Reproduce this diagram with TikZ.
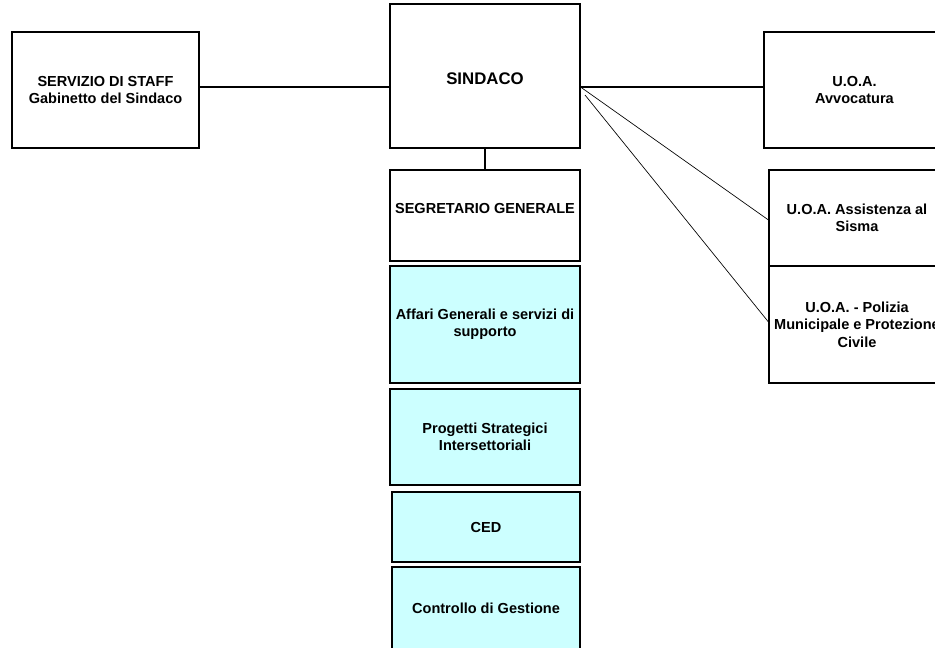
\documentclass[tikz,border=0pt]{standalone}
\usepackage{fontspec}
\setmainfont{Liberation Sans}
\definecolor{boxcyan}{HTML}{CCFFFF}
\begin{document}
\begin{tikzpicture}[x=0.75pt,y=-0.75pt,
  box/.style={draw,line width=0.8pt,inner sep=0pt,align=center,
    font=\fontsize{10.9}{13}\selectfont\bfseries},
  sz/.style 2 args={minimum width=#1*0.75pt,minimum height=#2*0.75pt},
  cbox/.style={box,fill=boxcyan},
  bigtext/.style={font=\fontsize{12.6}{15}\selectfont\bfseries},
  conn/.style={line width=0.8pt},
  thinconn/.style={line width=0.5pt}]
\useasboundingbox (0,0) rectangle (935,647);
\clip (0,0) rectangle (935,647);
\fill[white] (0,0) rectangle (935,647);
% left
\node[box,sz={187}{116}] (staff) at (105.5,90) {SERVIZIO DI STAFF\\Gabinetto del Sindaco};
% centre column
\node[box,bigtext,sz={190}{144}] (sindaco) at (485,76) {\raisebox{-2pt}[\height][\depth]{SINDACO}};
\node[box,sz={190}{91}] (segr) at (485,215.5) {\raisebox{5pt}[\height][\depth]{SEGRETARIO GENERALE}};
\node[cbox,sz={190}{117}] (affari) at (485,324.5) {Affari Generali e servizi di\\supporto};
\node[cbox,sz={190}{96}] (prog) at (485,437) {Progetti Strategici\\Intersettoriali};
\node[cbox,sz={188}{70}] (ced) at (486,527) {CED};
\node[cbox,sz={188}{83}] (ctrl) at (486,608.5) {Controllo di Gestione};
% right
\node[box,sz={181}{116}] (avv) at (854.5,90) {U.O.A.\\Avvocatura};
\node[box,sz={176}{96}] (assist) at (857,218) {U.O.A. Assistenza al\\Sisma};
\node[box,sz={176}{117}] (pol) at (857,324.5) {U.O.A. - Polizia\\Municipale e Protezione\\Civile};
% connectors
\coordinate (d2) at (585,95);
\draw[conn] (staff.east |- 0,87) -- (sindaco.west |- 0,87);
\draw[conn] (sindaco.south) -- (segr.north);
\draw[conn] (sindaco.east |- 0,87) -- (avv.west |- 0,87);
\draw[thinconn] (sindaco.east |- 0,87) -- (assist.west |- 0,220);
\draw[thinconn] (d2) -- (pol.west |- 0,322);
\end{tikzpicture}
\end{document}
